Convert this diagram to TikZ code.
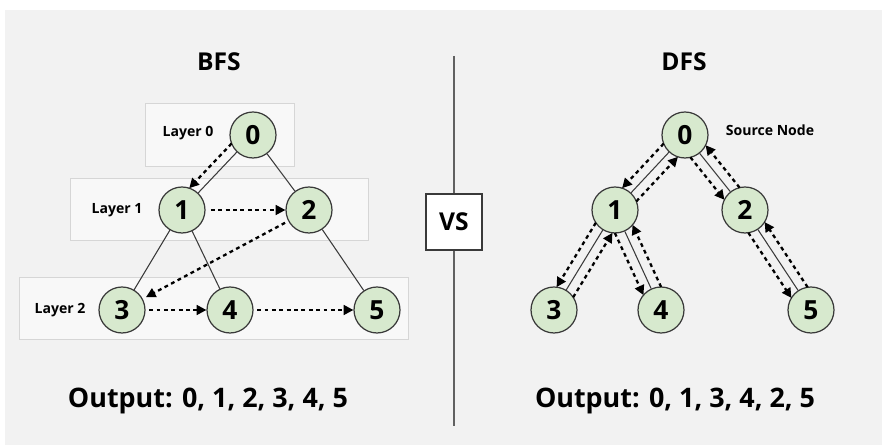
\documentclass[tikz,border=0pt]{standalone}
\usepackage{fontspec}
\setmainfont{Open Sans}
\usetikzlibrary{arrows.meta,calc}

\definecolor{bgray}{HTML}{F2F2F2}
\definecolor{ngreen}{HTML}{D7E9CE}
\definecolor{edgec}{HTML}{3A3A3A}

\newcommand{\sidearrow}[2]{\draw[travel] ($(#1)!0.46cm!-25:(#2)$) -- ($(#2)!0.46cm!25:(#1)$);}

\begin{document}
\begin{tikzpicture}[x=0.02cm,y=-0.02cm,
	vert/.style={circle,draw=edgec,line width=0.7pt,fill=ngreen,minimum size=0.92cm,inner sep=0pt,font=\fontsize{15}{15}\selectfont\bfseries},
	layerbox/.style={draw=black!16,fill=white!45!bgray,line width=0.5pt},
	layerlab/.style={font=\fontsize{8}{8}\selectfont\bfseries},
	tree/.style={draw=edgec,line width=0.6pt},
	travel/.style={-{Triangle[length=5.5pt,width=5.5pt]},dash pattern=on 2.2pt off 2pt,line width=1.3pt},
	title/.style={font=\fontsize{14}{14}\selectfont\bfseries},
	result/.style={font=\fontsize{15.3}{15.3}\selectfont\bfseries}]
			\useasboundingbox (0,0) rectangle (882,445);
			\fill[white] (0,0) rectangle (882,445);
			\fill[bgray] (5,10) rectangle (882,445);

			\node[title] (bfst) at (219,62) {BFS};
			\node[title] (dfst) at (684,62) {DFS};

			\draw[layerbox] (145,103) rectangle (294,166);
			\draw[layerbox] (70,178) rectangle (368,240);
			\draw[layerbox] (19,277) rectangle (408,339);
			\node[layerlab] (lay0) at (188,133) {Layer 0};
			\node[layerlab] (lay1) at (117,210) {Layer 1};
			\node[layerlab] (lay2) at (60,310) {Layer 2};

			\node[vert] (b0) at (253,135) {0};
			\node[vert] (b1) at (182,210) {1};
			\node[vert] (b2) at (309,210) {2};
			\node[vert] (b3) at (122,310) {3};
			\node[vert] (b4) at (230,310) {4};
			\node[vert] (b5) at (377,310) {5};

			\draw[tree] (b0) -- (b1);
			\draw[tree] (b0) -- (b2);
			\draw[tree] (b1) -- (b3);
			\draw[tree] (b1) -- (b4);
			\draw[tree] (b2) -- (b5);

			\sidearrow{b0}{b1}
			\draw[travel,shorten <=3pt] (b1) -- (b2);
			\draw[travel,shorten <=2pt,shorten >=2pt] (b2) -- (b3);
			\draw[travel,shorten <=2pt] (b3) -- (b4);
			\draw[travel,shorten <=2pt] (b4) -- (b5);

			\node[draw=edgec,line width=0.7pt,fill=white,minimum size=1.12cm,inner sep=0pt,title] (vs) at (454,222) {VS};
			\coordinate (divtop) at (454,56);
			\coordinate (divbot) at (454,426);
			\draw[edgec!80,line width=0.7pt] (divtop) -- (vs.north);
			\draw[edgec!80,line width=0.7pt] (vs.south) -- (divbot);

			\node[vert] (d0) at (685,135) {0};
			\node[vert] (d1) at (615,210) {1};
			\node[vert] (d2) at (745,210) {2};
			\node[vert] (d3) at (554,310) {3};
			\node[vert] (d4) at (661,310) {4};
			\node[vert] (d5) at (811,310) {5};
			\node[layerlab] (src) at (770,130) {Source Node};

			\draw[tree] (d0) -- (d1);
			\draw[tree] (d0) -- (d2);
			\draw[tree] (d1) -- (d3);
			\draw[tree] (d1) -- (d4);
			\draw[tree] (d2) -- (d5);

			\sidearrow{d0}{d1}
			\sidearrow{d1}{d3}
			\sidearrow{d3}{d1}
			\sidearrow{d1}{d4}
			\sidearrow{d4}{d1}
			\sidearrow{d1}{d0}
			\sidearrow{d0}{d2}
			\sidearrow{d2}{d5}
			\sidearrow{d5}{d2}
			\sidearrow{d2}{d0}

			\node[result] (bout) at (208,401) {Output: 0, 1, 2, 3, 4, 5};
			\node[result] (dout) at (675,401) {Output: 0, 1, 3, 4, 2, 5};
		\end{tikzpicture}
\end{document}
